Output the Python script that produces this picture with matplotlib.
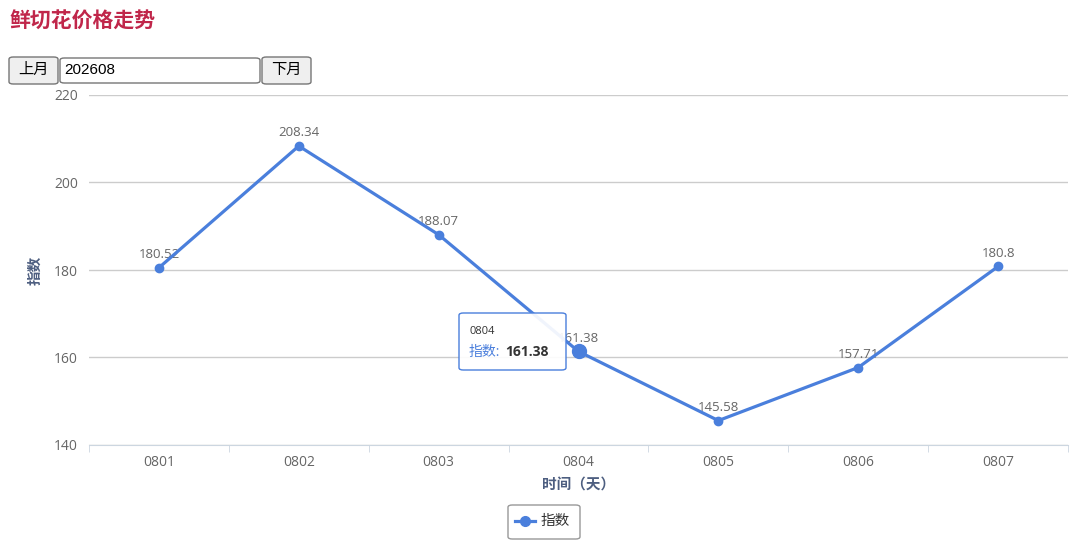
import matplotlib.pyplot as plt
from matplotlib.patches import FancyBboxPatch

plt.rcParams['font.family'] = ['Open Sans', 'Noto Sans CJK SC', 'DejaVu Sans']

days = ['0801', '0802', '0803', '0804', '0805', '0806', '0807']
index_vals = [180.52, 208.34, 188.07, 161.38, 145.58, 157.71, 180.8]
yticks = [140, 160, 180, 200, 220]
hover_i = 3

W, H = 1080, 553
fig = plt.figure(figsize=(W / 100, H / 100), dpi=100)
ax = fig.add_axes([89 / W, 1 - 445 / H, (1068 - 89) / W, (445 - 95) / H])

line_c = '#4a7fdc'
x = list(range(len(days)))
ax.plot(x, index_vals, color=line_c, lw=2.3, marker='o', ms=6, zorder=3)
ax.plot([hover_i], [index_vals[hover_i]], 'o', color=line_c, ms=10, zorder=4)
for xi, v in zip(x, index_vals):
    ax.annotate(f'{v:g}', (xi, v), xytext=(0, 5), textcoords='offset points',
                ha='center', va='bottom', fontsize=9.5, color='#666666', zorder=2)

ax.set_xlim(-0.5, len(days) - 0.5)
ax.set_ylim(140, 220)
ax.set_yticks(yticks)
ax.grid(axis='y', color='#cccccc', lw=1)
ax.set_axisbelow(True)
for s in ['top', 'right', 'left']:
    ax.spines[s].set_visible(False)
ax.spines['bottom'].set_color('#ccd6e0')
ax.set_xticks(x)
ax.set_xticklabels(days)
ax.set_xticks([i + 0.5 for i in range(-1, len(days))], minor=True)
ax.tick_params(axis='x', which='major', length=0, pad=7, labelsize=10, labelcolor='#666666')
ax.tick_params(axis='x', which='minor', length=5, color='#ccd6e0')
ax.tick_params(axis='y', length=0, pad=8, labelsize=10, labelcolor='#666666')
ax.set_xlabel('时间（天）', fontsize=10.5, fontweight='bold', color='#4d5e80', labelpad=6)
ax.set_ylabel('指数', fontsize=10.5, fontweight='bold', color='#4d5e80')
ax.yaxis.set_label_coords((42 - 89) / 979, 0.5)

# title and controls
fig.text(10 / W, 1 - 22 / H, '鲜切花价格走势', fontsize=15, fontweight='bold',
         color='#c0264a', va='center', ha='left')


def box(x0, y0, x1, y1, fc, ec, z=1):
    fig.patches.append(FancyBboxPatch((x0 / W, 1 - y1 / H), (x1 - x0) / W, (y1 - y0) / H,
                                      boxstyle='round,pad=0,rounding_size=0.004',
                                      transform=fig.transFigure, fc=fc, ec=ec, lw=1,
                                      zorder=z))


box(9, 57, 58, 84, '#efefef', '#767676')
fig.text(33.5 / W, 1 - 70.5 / H, '上月', fontsize=11, ha='center', va='center')
box(60, 58, 260, 83, 'white', '#767676')
fig.text(64 / W, 1 - 70.5 / H, '202608', fontsize=11, ha='left', va='center',
         family=['Liberation Sans'])
box(262, 57, 311, 84, '#efefef', '#767676')
fig.text(286.5 / W, 1 - 70.5 / H, '下月', fontsize=11, ha='center', va='center')

# tooltip
box(459, 313, 566, 370, (1, 1, 1, 0.92), line_c, z=10)
fig.text(469 / W, 1 - 332 / H, days[hover_i], fontsize=8, color='#333333',
         va='center', zorder=11)
fig.text(469 / W, 1 - 352 / H, '指数:', fontsize=10, color=line_c, va='center', zorder=11)
fig.text(505 / W, 1 - 352 / H, f'{index_vals[hover_i]:g}', fontsize=10, fontweight='bold',
         color='#333333', va='center', zorder=11)

# legend
box(508, 505, 580, 539, 'white', '#999999')
fig.lines.append(plt.Line2D([515 / W, 535 / W], [1 - 521 / H] * 2, transform=fig.transFigure,
                            color=line_c, lw=2.3))
fig.lines.append(plt.Line2D([525 / W], [1 - 521 / H], transform=fig.transFigure,
                            color=line_c, marker='o', ms=7))
fig.text(541 / W, 1 - 521 / H, '指数', fontsize=10.5, color='#333333', va='center')

fig.savefig('out.png', dpi=100)
